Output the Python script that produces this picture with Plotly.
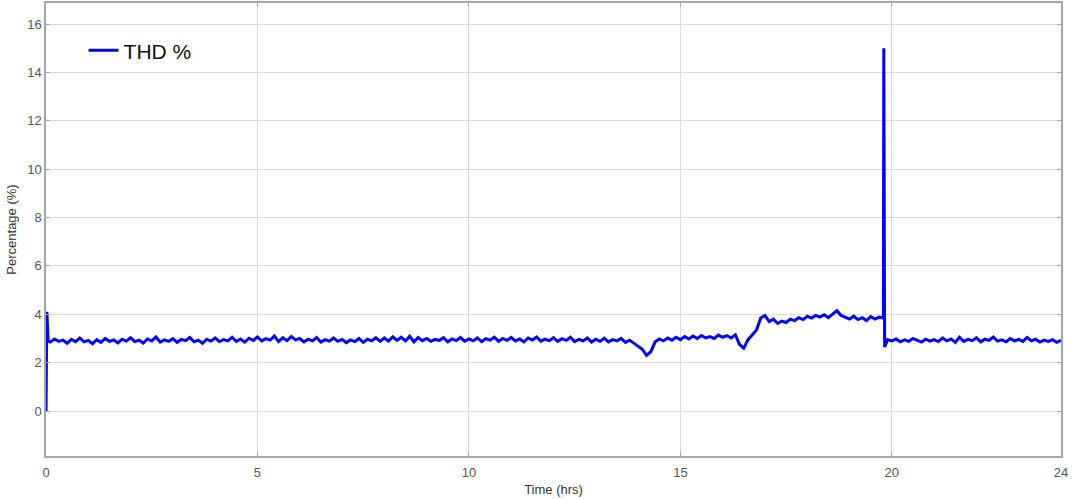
import numpy as np
import plotly.graph_objects as go

# THD readings, one every 0.1 h from 0.1 h to 24.0 h
thd_hours = np.round(np.arange(1, 241) * 0.1, 1)
thd_base = [
    2.85, 2.98, 2.88, 2.93, 2.80, 2.96, 2.87, 3.02, 2.86,
    2.92, 2.78, 2.95, 2.84, 3.00, 2.88, 2.94, 2.82, 2.97, 2.89,
    3.03, 2.87, 2.93, 2.81, 2.98, 2.90, 3.06, 2.85, 2.94, 2.88,
    2.99, 2.84, 2.96, 2.91, 3.04, 2.86, 2.93, 2.80, 2.97, 2.89,
    3.02, 2.87, 2.95, 2.90, 3.05, 2.88, 2.98, 2.85, 3.01, 2.92,
    3.06, 2.90, 2.99, 2.93, 3.10, 2.87, 3.03, 2.91, 3.08, 2.94,
    3.00, 2.86, 2.97, 2.90, 3.04, 2.85, 2.95, 2.89, 3.02, 2.88,
    2.96, 2.83, 2.94, 2.87, 3.00, 2.84, 2.97, 2.90, 3.03, 2.88,
    3.02, 2.89, 3.07, 2.92, 3.05, 2.90, 3.10, 2.86, 3.04, 2.91,
    3.00, 2.88, 2.96, 2.92, 3.03, 2.86, 2.98, 2.91, 3.04, 2.89,
    2.98, 2.90, 3.02, 2.87, 2.99, 2.93, 3.05, 2.88, 3.00, 2.92,
    3.04, 2.90, 2.98, 2.86, 3.02, 2.94, 3.06, 2.89, 2.97, 2.91,
    3.03, 2.88, 2.99, 2.92, 3.05, 2.87, 2.96, 2.90, 3.02, 2.85,
    2.97, 2.88, 3.01, 2.86, 2.95, 2.90, 3.00, 2.84, 2.93, 2.80,
    2.70, 2.55, 2.30, 2.45, 2.85, 2.98, 2.90, 3.02, 2.93, 3.05,
    2.95, 3.08, 2.98, 3.10, 3.00, 3.12, 3.02, 3.08, 3.00, 3.14,
    3.05, 3.12, 3.02, 3.15, 2.75, 2.60, 2.95, 3.15, 3.35, 3.85,
    3.95, 3.70, 3.80, 3.62, 3.72, 3.66, 3.80, 3.74, 3.86, 3.78,
    3.92, 3.84, 3.95, 3.88, 3.98, 3.86, 4.02, 4.15, 3.95, 3.88,
    3.80, 3.92, 3.78, 3.86, 3.74, 3.90, 3.80, 3.88, 3.85, 2.95,
    2.90, 2.98, 2.86, 2.94, 2.88, 3.00, 2.91, 2.85, 2.97, 2.89,
    2.95, 2.87, 3.02, 2.90, 2.98, 2.84, 3.05, 2.88, 2.96, 2.91,
    3.03, 2.86, 2.97, 2.92, 3.06, 2.89, 2.94, 2.86, 3.00, 2.90,
    2.96, 2.88, 3.04, 2.90, 2.97, 2.85, 2.93, 2.88, 2.95, 2.84,
    2.92,
]

# start-up transient and the spike near 19.8 h
event_hours = [0.0, 0.02, 0.05, 19.81, 19.83]
event_thd = [0.0, 4.1, 2.9, 15.0, 2.65]

x = np.concatenate([thd_hours, event_hours])
y = np.concatenate([thd_base, event_thd])
order = np.argsort(x, kind="stable")
x, y = x[order], y[order]

x_ticks = [0, 5, 10, 15, 20, 24]
y_ticks = [0, 2, 4, 6, 8, 10, 12, 14, 16]

fig = go.Figure()
fig.add_trace(go.Scatter(
    x=x, y=y, mode="lines", name="THD %",
    line=dict(color="#0000ff", width=3),
))

axis_style = dict(
    showline=True, linecolor="#a6a6a6", linewidth=1.5, mirror="ticks",
    showgrid=True, gridcolor="#dcdcdc", gridwidth=1,
    ticks="inside", ticklen=4, tickcolor="#a6a6a6",
    zeroline=False, automargin=False,
    tickfont=dict(size=13, color="#555555"),
)

fig.update_layout(
    width=1072, height=499,
    plot_bgcolor="white", paper_bgcolor="white",
    font=dict(family="Liberation Sans, Arial, sans-serif", color="#333333"),
    margin=dict(l=46, r=11, t=3, b=43),
    showlegend=True,
    legend=dict(
        x=0.037, y=0.94, xanchor="left", yanchor="top",
        bgcolor="rgba(0,0,0,0)", font=dict(size=21, color="#111111"),
    ),
)
fig.update_xaxes(
    range=[0, 24], tickvals=x_ticks, ticklabelstandoff=4,
    title=dict(text="Time (hrs)", font=dict(size=13, color="#333333"), standoff=6),
    **axis_style,
)
fig.update_yaxes(
    range=[-1.86, 16.87], tickvals=y_ticks,
    title=dict(text="Percentage (%)", font=dict(size=13, color="#333333"), standoff=8),
    **axis_style,
)

# drop the browser's default body margin so the figure sits at the page corner
fig.write_html(
    "out.html",
    config={"displayModeBar": False},
    post_script="document.body.style.margin = '0';",
)
